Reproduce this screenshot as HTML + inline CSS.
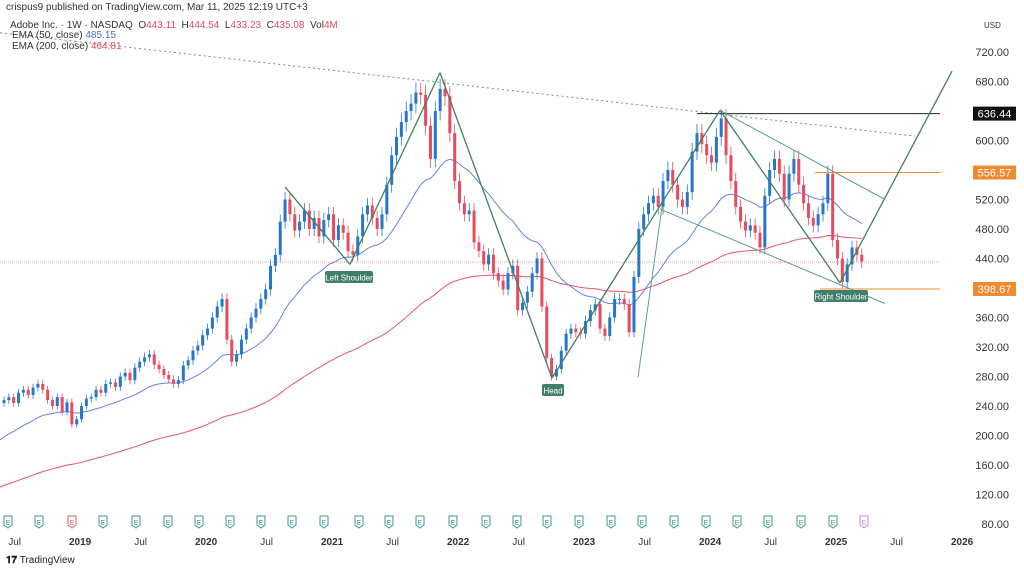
<!DOCTYPE html>
<html><head><meta charset="utf-8"><style>
body{margin:0;background:#fff;font-family:"Liberation Sans",sans-serif;}
#wrap{position:relative;width:1024px;height:571px;overflow:hidden;}
.t{position:absolute;white-space:nowrap;}
</style></head><body>
<div id="wrap">
<svg id="chart" width="1024" height="571" style="position:absolute;left:0;top:0"></svg>
<div class="t" style="left:6px;top:2px;font-size:10px;color:#333">crispus9 published on TradingView.com, Mar 11, 2025 12:19 UTC+3</div>
<div class="t" style="left:10px;top:20px;font-size:10px;color:#333">Adobe Inc. · 1W · NASDAQ &nbsp;O<span style="color:#e84a5f">443.11</span> &nbsp;H<span style="color:#e84a5f">444.54</span> &nbsp;L<span style="color:#e84a5f">433.23</span> &nbsp;C<span style="color:#e84a5f">435.08</span> &nbsp;Vol<span style="color:#e84a5f">4M</span></div>
<div class="t" style="left:12px;top:30px;font-size:10px;color:#333">EMA (50, close) <span style="color:#4a6fd8">485.15</span></div>
<div class="t" style="left:12px;top:41px;font-size:10px;color:#333">EMA (200, close) <span style="color:#e84a5f">464.81</span></div>
<div class="t" style="left:6px;top:555px;font-size:10px;color:#222"><b>𝟏𝟕</b> TradingView</div>
</div>
<script>
const closes=[248,252,244,258,262,255,265,270,262,248,240,252,232,245,215,222,240,250,252,262,258,270,272,266,280,285,275,292,300,306,310,296,290,282,276,270,275,295,302,315,322,336,345,360,375,385,330,300,310,330,345,360,372,385,398,430,445,490,520,500,478,490,505,480,495,470,492,500,465,485,475,450,445,470,500,512,495,480,500,540,580,605,625,640,650,665,662,620,575,640,670,660,610,545,515,500,505,462,450,432,445,420,410,398,420,430,370,380,395,420,440,375,305,280,290,315,338,345,340,338,355,370,378,345,335,360,385,385,378,340,415,480,500,515,525,510,545,560,540,520,510,530,585,610,595,580,570,605,630,580,545,510,490,478,485,475,455,525,560,575,555,520,555,575,540,515,495,485,500,515,555,465,440,408,432,455,445,436];
const priceTicks=[720,680,600,520,480,440,360,320,280,240,200,160,120,80];
const timeLabels=["Jul","2019","Jul","2020","Jul","2021","Jul","2022","Jul","2023","Jul","2024","Jul","2025","Jul","2026"];
const timeLabelPos=[0.1,0.62,1.1,1.62,2.1,2.62,3.1,3.62,4.1,4.62,5.1,5.62,6.1,6.62,7.1,7.62]; // years since Jun 2018
const levels=[636.44,556.57,398.67];
const emaSeed50=194, emaSeed200=130;
const lastPrice=435.08;

const NS="http://www.w3.org/2000/svg";
const svg=document.getElementById('chart');
const y=p=>52+(720-p)*0.7375;
const xi=i=>4+i*4.846;
const xt=yr=>yr*126+2;
function add(tag,attrs,parent){const e=document.createElementNS(NS,tag);for(const k in attrs)e.setAttribute(k,attrs[k]);(parent||svg).appendChild(e);return e;}

// last price dotted line
let e=add('line',{x1:0,x2:940,y1:y(lastPrice),y2:y(lastPrice),stroke:'#f0a0a0','stroke-dasharray':'1,1','stroke-width':1});


// EMAs
function ema(seed,n){const a=2/(n+1);let v=seed;return closes.map(c=>v=v+a*(c-v));}
const e50=ema(emaSeed50,25), e200=ema(emaSeed200,100);
e=add('polyline',{points:[[0,y(emaSeed200)]].concat(e200.map((v,i)=>[xi(i),y(v)])).join(' '),fill:'none',stroke:'#e8546a','stroke-width':1});

e=add('polyline',{points:[[0,y(emaSeed50)]].concat(e50.map((v,i)=>[xi(i),y(v)])).join(' '),fill:'none',stroke:'#6a7fe0','stroke-width':1});


// candles
const cg=add('g',{});

closes.forEach((c,i)=>{
  const o=i?closes[i-1]:c-4;const up=c>=o;const col=up?'#2676c9':'#e84a5f';
  const hi=Math.max(o,c)*1.02, lo=Math.min(o,c)*0.98;const x=xi(i);
  const w=add('line',{x1:x,x2:x,y1:y(hi),y2:y(lo),stroke:col,'stroke-width':0.8},cg);
  
  const b=add('rect',{x:x-1.5,width:3,y:y(Math.max(o,c)),height:Math.max(1,Math.abs(y(o)-y(c))),fill:col},cg);
  
});

// drawings
function ln(x1,p1,x2,p2,col,w,dash,name){const l=add('line',{x1:x1,y1:y(p1),x2:x2,y2:y(p2),stroke:col,'stroke-width':w});if(dash)l.setAttribute('stroke-dasharray',dash);}
ln(0,746,915,606,'#5a9a8a',1,'2,3','resistance-trendline');
ln(697,levels[0],940,levels[0],'#222',1,null,'level-636');
ln(815,levels[1],940,levels[1],'#f08a30',1,null,'level-556');
ln(820,levels[2],940,levels[2],'#f08a30',1,null,'level-398');
const zz=[[285,537],[350,432],[440,692],[552,278],[720,641],[840,407],[952,694]];
for(let i=0;i<zz.length-1;i++)ln(zz[i][0],zz[i][1],zz[i+1][0],zz[i+1][1],'#3f7f62',1.3,null,'pattern-zigzag');
ln(720,641,885,520,'#5aa08a',1,null,'channel-top');
ln(660,507,885,379,'#5aa08a',1,null,'channel-bottom');
ln(638,279,662,510,'#5aa08a',1,null,'fan-line');

// price labels on lines
function box(p,bg,name){const g=add('g',{});
add('rect',{x:973,y:y(p)-7,width:43,height:14,fill:bg},g);const t=add('text',{x:994.5,y:y(p)+4,'text-anchor':'middle','font-size':11,fill:'#fff'},g);t.textContent=p.toFixed(2);}
// axis ticks
priceTicks.forEach(p=>{const t=add('text',{x:1009,y:y(p)+4,'text-anchor':'end','font-size':11,fill:'#333'});t.textContent=p.toFixed(2);});
box(levels[0],'#111','label-636');box(levels[1],'#f08a30','label-556');box(levels[2],'#f08a30','label-398');
let u=add('text',{x:984,y:28,'font-size':8,fill:'#333'});u.textContent='USD';
timeLabels.forEach((s,i)=>{const t=add('text',{x:xt(timeLabelPos[i])+(i==0?0:0),y:545,'text-anchor':'middle','font-size':10,fill:'#333','font-weight':s=='Jul'?'normal':'bold'});t.textContent=s;});

// earnings markers
const eX=[8,39,72,103,136,168,199,230,261,292,324,359,389,420,453,486,517,547,579,611,642,674,706,737,768,801,833,864];
eX.forEach((x,i)=>{const col=i==2?'#e06060':(i==eX.length-1?'#d080e0':'#3a9a8a');const g=add('g',{});
add('path',{d:`M${x-4} 516 h8 v9 l-4 3 l-4 -3z`,fill:'#fff',stroke:col,'stroke-width':1},g);const t=add('text',{x:x,y:525,'text-anchor':'middle','font-size':7,fill:col},g);t.textContent='E';});

// pattern labels
function tag(cx,cy,w,s,name){const g=add('g',{});add('rect',{x:cx-w/2,y:cy-6,width:w,height:12,rx:2,fill:'#3f7f6c'},g);const t=add('text',{x:cx,y:cy+3.5,'text-anchor':'middle','font-size':8,fill:'#fff'},g);t.textContent=s;}
tag(349,277,48,'Left Shoulder','left-shoulder-label');
tag(553,390,22,'Head','head-label');
tag(841,296,54,'Right Shoulder','right-shoulder-label');
</script>
</body></html>
